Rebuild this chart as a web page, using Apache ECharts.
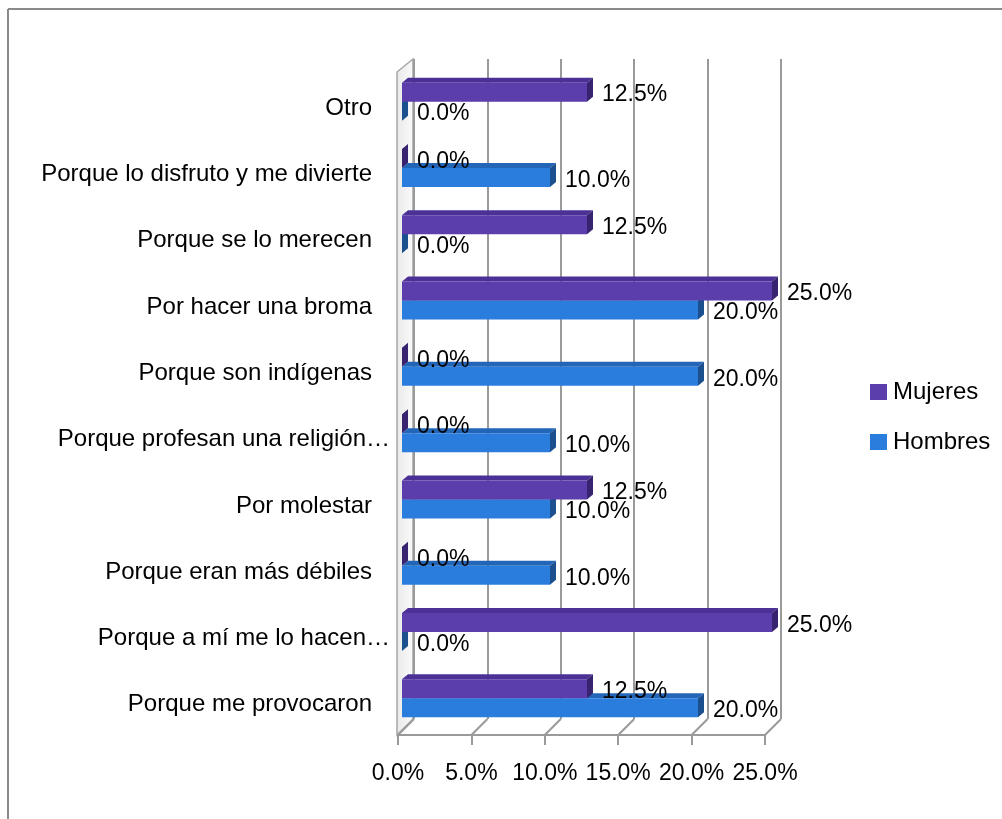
<!DOCTYPE html>
<html>
<head>
<meta charset="utf-8">
<script src="https://cdn.jsdelivr.net/npm/echarts@6/dist/echarts.min.js"></script>
<style>
  html, body { margin: 0; padding: 0; background: #fff; }
  #chart { width: 1002px; height: 819px; }
</style>
</head>
<body>
<div id="chart"></div>
<script>
// Categories listed top to bottom
const categories = [
  'Otro',
  'Porque lo disfruto y me divierte',
  'Porque se lo merecen',
  'Por hacer una broma',
  'Porque son indígenas',
  'Porque profesan una religión…',
  'Por molestar',
  'Porque eran más débiles',
  'Porque a mí me lo hacen…',
  'Porque me provocaron'
];
const mujeres = [12.5, 0, 12.5, 25, 0, 0, 12.5, 0, 25, 12.5];
const hombres = [0, 10, 0, 20, 20, 10, 10, 10, 0, 20];
const seriesNames = ['Mujeres', 'Hombres'];
const axisMax = 25;
const axisStep = 5;
const axisTicks = [0, 5, 10, 15, 20, 25];

const FONT = 'Liberation Sans, Arial, sans-serif';
const COLORS = {
  Mujeres: { front: '#5b3dab', top: '#4b3196', side: '#37236f' },
  Hombres: { front: '#2a7ddc', top: '#2366b8', side: '#1b4f8e' }
};
const BAR_H = 19;     // height of each bar's front face
const DEPTH_X = 6;    // bar depth offset
const DEPTH_Y = 5;
const FLOOR_DX = 16;  // floor depth
const FLOOR_DY = 16;

const chart = echarts.init(document.getElementById('chart'));

function barRenderer(name) {
  const c = COLORS[name];
  const upper = name === 'Mujeres';
  return function (params, api) {
    const val = api.value(0);
    const idx = api.value(1);
    const p0 = api.coord([0, idx]);
    const p1 = api.coord([val, idx]);
    const x0 = p0[0], x1 = p1[0];
    const y0 = upper ? p0[1] - BAR_H : p0[1];
    const y1 = y0 + BAR_H;
    const children = [];
    if (x1 > x0) {
      children.push({
        type: 'polygon',
        shape: { points: [[x0, y0], [x0 + DEPTH_X, y0 - DEPTH_Y], [x1 + DEPTH_X, y0 - DEPTH_Y], [x1, y0]] },
        style: { fill: c.top }
      });
      children.push({
        type: 'rect',
        shape: { x: x0, y: y0, width: x1 - x0, height: BAR_H },
        style: { fill: c.front }
      });
    }
    children.push({
      type: 'polygon',
      shape: { points: [[x1, y0], [x1 + DEPTH_X, y0 - DEPTH_Y], [x1 + DEPTH_X, y1 - DEPTH_Y], [x1, y1]] },
      style: { fill: c.side }
    });
    children.push({
      type: 'text',
      x: x1 + 15,
      y: (y0 + y1) / 2 + 3,
      style: {
        text: val.toFixed(1) + '%',
        fill: '#000',
        fontSize: 23,
        fontFamily: FONT,
        align: 'left',
        verticalAlign: 'middle'
      }
    });
    return { type: 'group', children: children };
  };
}

function floorRenderer(params, api) {
  const p = api.coord([api.value(0), 0]);
  const bottom = params.coordSys.y + params.coordSys.height;
  return {
    type: 'line',
    shape: { x1: p[0], y1: bottom, x2: p[0] + FLOOR_DX, y2: bottom - FLOOR_DY },
    style: { stroke: '#9a9a9a', lineWidth: 2 }
  };
}

const frontGrid = { left: 398, right: 237, top: 72, bottom: 84 };
const backGrid = { left: 414, right: 221, top: 59, bottom: 100 };
const barGrid = { left: 402, right: 230, top: 68.5, bottom: 87.5 };

const valueAxisBase = { type: 'value', min: 0, max: axisMax, interval: axisStep };

const option = {
  backgroundColor: '#ffffff',
  animation: false,
  grid: [frontGrid, backGrid, barGrid],
  xAxis: [
    Object.assign({}, valueAxisBase, {
      gridIndex: 0,
      axisLine: { show: true, lineStyle: { color: '#9a9a9a', width: 2 } },
      axisTick: { show: true, length: 10, lineStyle: { color: '#9a9a9a', width: 2 } },
      splitLine: { show: false },
      axisLabel: {
        margin: 27,
        color: '#000',
        fontSize: 23,
        fontFamily: FONT,
        formatter: v => v.toFixed(1) + '%'
      }
    }),
    Object.assign({}, valueAxisBase, {
      gridIndex: 1,
      axisLine: { show: false },
      axisTick: { show: false },
      axisLabel: { show: false },
      splitLine: { show: true, lineStyle: { color: '#9a9a9a', width: 2 } }
    }),
    Object.assign({}, valueAxisBase, {
      gridIndex: 2,
      show: false
    })
  ],
  yAxis: [
    {
      type: 'category',
      gridIndex: 0,
      data: categories,
      inverse: true,
      axisLine: { show: false },
      axisTick: { show: false },
      axisLabel: {
        margin: 8,
        formatter: v => v.endsWith('…') ? '{t|' + v + '}' : '{p|' + v + '}',
        rich: {
          t: { color: '#000', fontSize: 24, fontFamily: FONT, padding: [6, 0, 0, 0] },
          p: { color: '#000', fontSize: 24, fontFamily: FONT, padding: [6, 18, 0, 0] }
        }
      }
    },
    { type: 'category', gridIndex: 1, data: categories, inverse: true, show: false },
    { type: 'category', gridIndex: 2, data: categories, inverse: true, show: false }
  ],
  legend: {
    orient: 'vertical',
    left: 865,
    top: 375,
    itemWidth: 17,
    itemHeight: 16,
    itemGap: 26,
    icon: 'rect',
    data: seriesNames,
    textStyle: { color: '#000', fontSize: 24, fontFamily: FONT, lineHeight: 24, padding: [0, 0, 0, 1] }
  },
  graphic: [
    // outer frame
    { type: 'line', shape: { x1: 8, y1: 9, x2: 1002, y2: 9 }, style: { stroke: '#8a8a8a', lineWidth: 2 } },
    { type: 'line', shape: { x1: 8, y1: 9, x2: 8, y2: 819 }, style: { stroke: '#8a8a8a', lineWidth: 2 } },
    // left side wall
    {
      type: 'polygon',
      z: -1,
      shape: { points: [[397, 735], [397, 72], [413, 59], [413, 719]] },
      style: {
        fill: new echarts.graphic.LinearGradient(0, 0, 1, 0, [
          { offset: 0, color: '#e9e9e9' }, { offset: 1, color: '#fbfbfb' }
        ]),
        stroke: '#a6a6a6',
        lineWidth: 1.5
      }
    }
  ],
  series: [
    {
      name: 'floor',
      type: 'custom',
      xAxisIndex: 0,
      yAxisIndex: 0,
      silent: true,
      legendHoverLink: false,
      data: axisTicks.map(v => [v]),
      encode: { x: 0 },
      renderItem: floorRenderer,
      z: 1
    },
    {
      name: 'Hombres',
      type: 'custom',
      xAxisIndex: 2,
      yAxisIndex: 2,
      itemStyle: { color: COLORS.Hombres.front },
      data: hombres.map((v, i) => [v, i]),
      encode: { x: 0, y: 1 },
      renderItem: barRenderer('Hombres'),
      z: 3
    },
    {
      name: 'Mujeres',
      type: 'custom',
      xAxisIndex: 2,
      yAxisIndex: 2,
      itemStyle: { color: COLORS.Mujeres.front },
      data: mujeres.map((v, i) => [v, i]),
      encode: { x: 0, y: 1 },
      renderItem: barRenderer('Mujeres'),
      z: 4
    }
  ]
};

chart.setOption(option);
</script>
</body>
</html>
